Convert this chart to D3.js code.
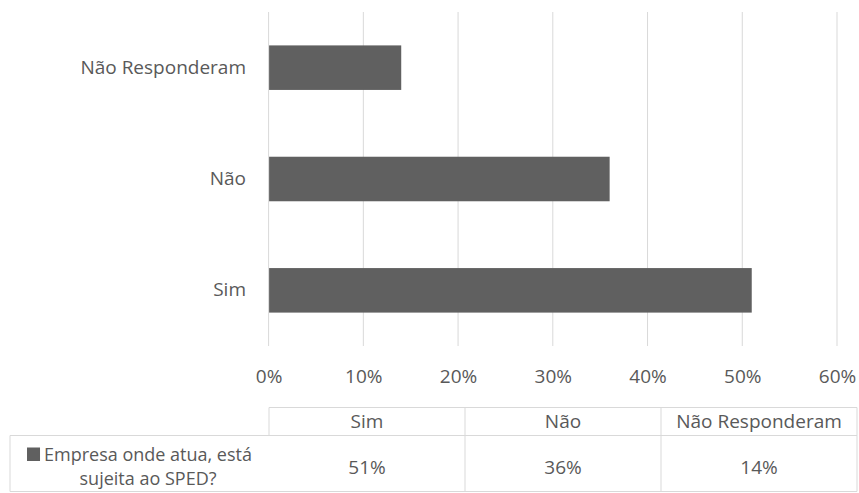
<!DOCTYPE html>
<html>
<head>
<meta charset="utf-8">
<script src="https://cdn.jsdelivr.net/npm/d3@7"></script>
<style>
  html, body { margin: 0; padding: 0; background: #fff; }
  svg { display: block; }
  text { font-family: "Open Sans", Lato, sans-serif; fill: #595959; }
</style>
</head>
<body>
<svg id="chart" width="859" height="493"></svg>
<script>
// Survey answers: is the respondent's company subject to SPED?
const categories = ["Sim", "Não", "Não Responderam"];
const values = [0.51, 0.36, 0.14];
const seriesName = ["Empresa onde atua, está", "sujeita ao SPED?"];
const xTicks = [0, 0.1, 0.2, 0.3, 0.4, 0.5, 0.6];

const barColor = "#606060";
const gridColor = "#d9d9d9";
const fontSize = 19;

const svg = d3.select("#chart");
const plot = { left: 268.6, right: 837, top: 12, bottom: 346 };

const x = d3.scaleLinear().domain([0, 0.6]).range([plot.left, plot.right]);
// Bars listed bottom-up: first category sits at the bottom
const y = d3.scaleBand()
  .domain(categories.slice().reverse())
  .range([plot.top, plot.bottom])
  .paddingInner(0.6)
  .paddingOuter(0.3);

const fmt = d3.format(".0%");

// Vertical gridlines
svg.append("g")
  .selectAll("line")
  .data(xTicks)
  .join("line")
  .attr("x1", d => x(d)).attr("x2", d => x(d))
  .attr("y1", plot.top).attr("y2", plot.bottom)
  .attr("stroke", gridColor)
  .attr("stroke-width", 1);

// Bars
svg.append("g")
  .selectAll("rect")
  .data(categories.map((c, i) => ({ c, v: values[i] })))
  .join("rect")
  .attr("x", x(0) + 0.5)
  .attr("y", d => y(d.c))
  .attr("width", d => x(d.v) - x(0) - 0.5)
  .attr("height", y.bandwidth())
  .attr("fill", barColor);

// X axis labels
const xAxis = d3.axisBottom(x).tickValues(xTicks).tickFormat(fmt).tickSize(0).tickPadding(0);
const gx = svg.append("g").attr("transform", `translate(0,${plot.bottom})`).call(xAxis);
gx.select(".domain").remove();
gx.selectAll("text")
  .attr("y", 30)
  .attr("dy", "0.35em")
  .style("font-size", fontSize + "px")
  .style("font-family", "'Open Sans', Lato, sans-serif")
  .attr("fill", "#595959");

// Category labels
const yAxis = d3.axisLeft(y).tickSize(0).tickPadding(0);
const gy = svg.append("g").attr("transform", "translate(246,0)").call(yAxis);
gy.select(".domain").remove();
gy.selectAll("text")
  .style("font-size", fontSize + "px")
  .style("font-family", "'Open Sans', Lato, sans-serif")
  .attr("fill", "#595959");

// Data table under the plot
const table = { left: 10, colStart: 269, right: 857, top: 407.5, mid: 435.5, bottom: 491.5 };
const colX = d3.scaleBand().domain(categories).range([table.colStart, table.right]);
const tg = svg.append("g").attr("stroke", gridColor).attr("stroke-width", 1).attr("fill", "none");

// Header row box
tg.append("path").attr("d",
  `M${table.colStart},${table.mid} V${table.top} H${table.right} V${table.bottom}`);
// Data row box
tg.append("path").attr("d",
  `M${table.left},${table.mid} H${table.right} M${table.left},${table.mid} V${table.bottom} H${table.right}`);
// Column dividers
tg.selectAll("line.col")
  .data(categories.slice(1))
  .join("line")
  .attr("x1", d => colX(d)).attr("x2", d => colX(d))
  .attr("y1", table.top).attr("y2", table.bottom);

// Header text
svg.append("g")
  .selectAll("text")
  .data(categories)
  .join("text")
  .attr("x", d => colX(d) + colX.bandwidth() / 2)
  .attr("y", 421.5)
  .attr("dy", "0.35em")
  .attr("text-anchor", "middle")
  .style("font-size", fontSize + "px")
  .text(d => d);

// Value cells
svg.append("g")
  .selectAll("text")
  .data(categories.map((c, i) => ({ c, v: values[i] })))
  .join("text")
  .attr("x", d => colX(d.c) + colX.bandwidth() / 2)
  .attr("y", 467)
  .attr("dy", "0.35em")
  .attr("text-anchor", "middle")
  .style("font-size", fontSize + "px")
  .text(d => fmt(d.v));

// Series legend cell (two-line label with key swatch)
const legendCx = 148;
const legendSize = 18;
const legendLabel = svg.append("g");
const firstLine = legendLabel.append("text")
  .attr("x", legendCx)
  .attr("y", 454.2)
  .attr("dy", "0.35em")
  .attr("text-anchor", "middle")
  .style("font-size", legendSize + "px")
  .text(seriesName[0]);
legendLabel.append("text")
  .attr("x", legendCx)
  .attr("y", 478.9)
  .attr("dy", "0.35em")
  .attr("text-anchor", "middle")
  .style("font-size", legendSize + "px")
  .text(seriesName[1]);
// Key swatch sits just left of the first line
const lineStart = legendCx - firstLine.node().getComputedTextLength() / 2;
legendLabel.append("rect")
  .attr("x", lineStart - 17).attr("y", 447.5)
  .attr("width", 13).attr("height", 13.5)
  .attr("fill", barColor);
</script>
</body>
</html>
